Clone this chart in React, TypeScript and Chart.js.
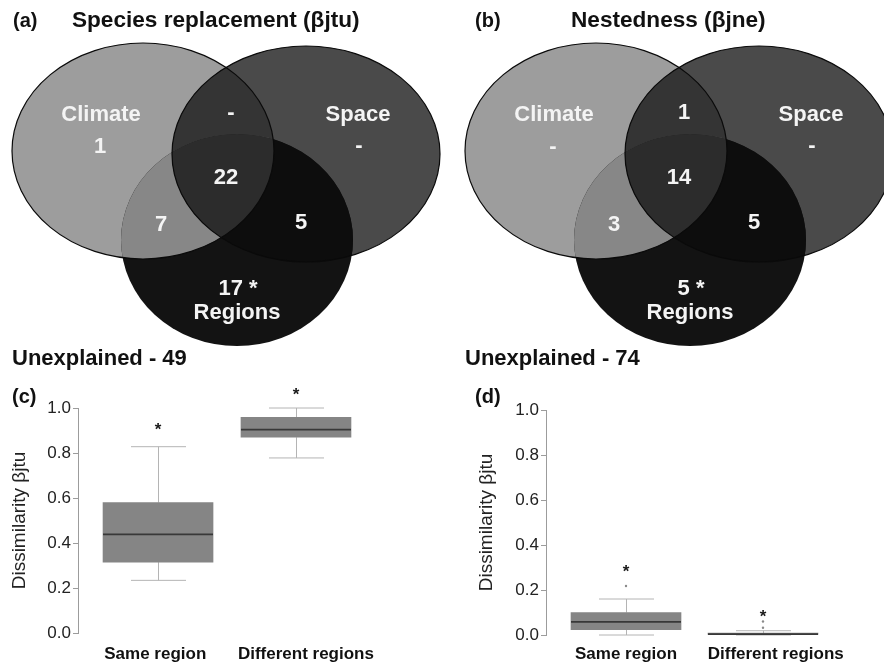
import React, { useEffect, useRef } from 'react';
import { Chart, registerables } from 'chart.js';

Chart.register(...registerables);

const FONT = "'Liberation Sans', Arial, Helvetica, sans-serif";

// ---------- Data: Venn partitions (variation explained, %) ----------
const vennSetNames = ['Climate', 'Space', 'Regions'];
// order: Climate only, Space only, Regions only, C∩S, C∩R, S∩R, C∩S∩R
const vennPartNames = ['Climate', 'Space', 'Regions', 'Climate+Space', 'Climate+Regions', 'Space+Regions', 'All'];
const replacementParts: (number | null)[] = [1, null, 17, null, 7, 5, 22];
const nestednessParts: (number | null)[] = [null, null, 5, 1, 3, 5, 14];
const significantParts = [false, false, true, false, false, false, false];
const vennTitles = ['Species replacement (βjtu)', 'Nestedness (βjne)'];
const unexplained = [49, 74];
const panelLetters = ['(a)', '(b)', '(c)', '(d)'];

// ---------- Data: box plots ----------
const boxCategories = ['Same region', 'Different regions'];
const yTicks = [0, 0.2, 0.4, 0.6, 0.8, 1.0];
const yAxisTitle = 'Dissimilarity βjtu';

const jtuMin = [0.234, 0.778];
const jtuQ1 = [0.315, 0.87];
const jtuMedian = [0.438, 0.904];
const jtuQ3 = [0.58, 0.959];
const jtuMax = [0.828, 1.0];
const jtuOutliers: number[][] = [[], []];
const jtuSignif = [0.911, 1.067];

const jneMin = [0, 0];
const jneQ1 = [0.024, 0.0];
const jneMedian = [0.058, 0.004];
const jneQ3 = [0.1, 0.008];
const jneMax = [0.16, 0.019];
const jneOutliers: number[][] = [[0.218], [0.032, 0.06]];
const jneSignif = [0.289, 0.089];

// ---------- Layout (not data) ----------
const VENN_SHAPES = [
  { cx: 143, cy: 151, rx: 131, ry: 108 }, // Climate
  { cx: 306, cy: 154, rx: 134, ry: 108 }, // Space
  { cx: 237, cy: 240, rx: 116, ry: 106 }, // Regions
];
const VENN_PART_POS = [
  [100, 147], [359, 146], [238, 289], [231, 113], [161, 225], [301, 223], [226, 178],
];
const VENN_NAME_POS = [[101, 115], [358, 115], [237, 313]];
const VENN_COLORS = {
  C: '#9d9d9d', S: '#4a4a4a', R: '#131313',
  CS: '#343434', CR: '#878787', SR: '#0d0d0d', CSR: '#2c2c2c',
};
const VENN_PANELS = [
  { left: 0, dx: 0, letterX: 13, titleX: 72, unexplX: 12 },
  { left: 442, dx: 11, letterX: 33, titleX: 129, unexplX: 23 },
];
const BOX_PANELS = [
  { left: 0, padTop: 33, xAxisH: 32, yAxisW: 78, padRight: 66, xMin: 0.42, xMax: 2.58, labelShift: [-0.02, 0.072], titlePad: 8.6, letterX: 12, labelPad: 11 },
  { left: 442, padTop: 35, xAxisH: 30, yAxisW: 104, padRight: 41, xMin: 0.416, xMax: 2.584, labelShift: [0, 0.093], titlePad: 33.6, letterX: 33, labelPad: 9 },
];
const PANEL_W = 442;
const VENN_H = 375;
const BOX_TOP = 375;
const BOX_H = 290;
const BOX_WIDTH_PX = 110;

function buildVenn(canvas: HTMLCanvasElement, idx: number) {
  const P = VENN_PANELS[idx];
  const values = idx === 0 ? replacementParts : nestednessParts;
  const plugin = {
    id: 'vennDraw',
    afterDatasetsDraw(chart: any) {
      const { ctx, scales } = chart;
      const xs = scales.x, ys = scales.y;
      const px = (v: number) => xs.getPixelForValue(v + P.dx);
      const py = (v: number) => ys.getPixelForValue(v);
      const path = (s: any) => {
        const cx = px(s.cx), cy = py(s.cy);
        ctx.beginPath();
        ctx.ellipse(cx, cy, Math.abs(px(s.cx + s.rx) - cx), Math.abs(py(s.cy + s.ry) - cy), 0, 0, Math.PI * 2);
      };
      const [C, S, R] = VENN_SHAPES;
      const fill = (shape: any, color: string, clips: any[]) => {
        ctx.save();
        clips.forEach((c) => { path(c); ctx.clip(); });
        path(shape);
        ctx.fillStyle = color;
        ctx.fill();
        ctx.restore();
      };
      fill(C, VENN_COLORS.C, []);
      fill(S, VENN_COLORS.S, []);
      fill(R, VENN_COLORS.R, []);
      fill(S, VENN_COLORS.CS, [C]);
      fill(R, VENN_COLORS.CR, [C]);
      fill(R, VENN_COLORS.SR, [S]);
      fill(R, VENN_COLORS.CSR, [C, S]);
      ctx.save();
      ctx.strokeStyle = '#0a0a0a';
      ctx.lineWidth = 1.2;
      path(C); ctx.stroke();
      path(S); ctx.stroke();
      ctx.restore();

      ctx.save();
      ctx.fillStyle = '#f4f4f4';
      ctx.textAlign = 'center';
      ctx.textBaseline = 'middle';
      ctx.font = `bold 22px ${FONT}`;
      values.forEach((v, i) => {
        const txt = (v == null ? '-' : String(v)) + (significantParts[i] ? ' *' : '');
        const [lx, ly] = VENN_PART_POS[i];
        ctx.fillText(txt, px(lx), py(ly));
      });
      vennSetNames.forEach((n, i) => {
        const [lx, ly] = VENN_NAME_POS[i];
        ctx.fillText(n, px(lx), py(ly));
      });
      ctx.restore();

      ctx.save();
      ctx.fillStyle = '#111';
      ctx.textAlign = 'left';
      ctx.textBaseline = 'alphabetic';
      ctx.font = `bold 20px ${FONT}`;
      ctx.fillText(panelLetters[idx], xs.getPixelForValue(P.letterX), ys.getPixelForValue(27));
      ctx.font = `bold 22.6px ${FONT}`;
      ctx.fillText(vennTitles[idx], xs.getPixelForValue(P.titleX), ys.getPixelForValue(27));
      ctx.font = `bold 22px ${FONT}`;
      ctx.fillText(`Unexplained - ${unexplained[idx]}`, xs.getPixelForValue(P.unexplX), ys.getPixelForValue(365));
      ctx.restore();
    },
  };
  return new Chart(canvas, {
    type: 'scatter',
    data: { datasets: [{ label: vennPartNames.join(','), data: [], pointRadius: 0 }] },
    options: {
      animation: false,
      responsive: false,
      events: [],
      layout: { padding: 0 },
      plugins: { legend: { display: false }, tooltip: { enabled: false } },
      scales: {
        x: { type: 'linear', display: false, min: 0, max: PANEL_W },
        y: { type: 'linear', display: false, min: 0, max: VENN_H, reverse: true },
      },
    },
    plugins: [plugin],
  } as any);
}

function buildBox(canvas: HTMLCanvasElement, idx: number) {
  const L = BOX_PANELS[idx];
  const isJtu = idx === 0;
  const mn = isJtu ? jtuMin : jneMin;
  const q1 = isJtu ? jtuQ1 : jneQ1;
  const md = isJtu ? jtuMedian : jneMedian;
  const q3 = isJtu ? jtuQ3 : jneQ3;
  const mx = isJtu ? jtuMax : jneMax;
  const outl = isJtu ? jtuOutliers : jneOutliers;
  const sig = isJtu ? jtuSignif : jneSignif;
  const capHalf = BOX_WIDTH_PX / 4;
  const halfBox = BOX_WIDTH_PX / 2;

  const plugin = {
    id: 'boxParts',
    beforeDatasetsDraw(chart: any) {
      const { ctx, scales: { x, y } } = chart;
      ctx.save();
      ctx.strokeStyle = '#b4b4b4';
      ctx.lineWidth = 1;
      boxCategories.forEach((_, i) => {
        const cx = Math.round(x.getPixelForValue(i + 1)) + 0.5;
        const yMax = y.getPixelForValue(mx[i]);
        const yMin = y.getPixelForValue(mn[i]);
        ctx.beginPath();
        ctx.moveTo(cx, y.getPixelForValue(q3[i]));
        ctx.lineTo(cx, yMax);
        ctx.moveTo(cx - capHalf, yMax);
        ctx.lineTo(cx + capHalf, yMax);
        ctx.moveTo(cx, y.getPixelForValue(q1[i]));
        ctx.lineTo(cx, yMin);
        ctx.moveTo(cx - capHalf, yMin);
        ctx.lineTo(cx + capHalf, yMin);
        ctx.stroke();
      });
      ctx.restore();
    },
    afterDatasetsDraw(chart: any) {
      const { ctx, scales: { x, y } } = chart;
      ctx.save();
      boxCategories.forEach((_, i) => {
        const cx = x.getPixelForValue(i + 1);
        const ym = y.getPixelForValue(md[i]);
        ctx.strokeStyle = '#383838';
        ctx.lineWidth = 1.8;
        ctx.beginPath();
        ctx.moveTo(cx - halfBox, ym);
        ctx.lineTo(cx + halfBox, ym);
        ctx.stroke();
        ctx.fillStyle = '#8a8a8a';
        outl[i].forEach((o) => {
          ctx.beginPath();
          ctx.arc(cx, y.getPixelForValue(o), 1.2, 0, Math.PI * 2);
          ctx.fill();
        });
        ctx.fillStyle = '#1a1a1a';
        ctx.font = `bold 17px ${FONT}`;
        ctx.textAlign = 'center';
        ctx.textBaseline = 'alphabetic';
        ctx.fillText('*', cx, y.getPixelForValue(sig[i]) + 7);
      });
      ctx.fillStyle = '#111';
      ctx.font = `bold 20px ${FONT}`;
      ctx.textAlign = 'left';
      ctx.fillText(panelLetters[idx + 2], L.letterX, 28);
      ctx.restore();
    },
  };

  return new Chart(canvas, {
    type: 'bar',
    data: {
      datasets: [{
        label: isJtu ? 'βjtu' : 'βjne',
        data: boxCategories.map((_, i) => ({ x: i + 1, y: [q1[i], q3[i]] })),
        backgroundColor: '#858585',
        borderWidth: 0,
        barThickness: BOX_WIDTH_PX,
        grouped: false,
      }],
    },
    options: {
      animation: false,
      responsive: false,
      events: [],
      layout: { padding: { top: L.padTop, right: L.padRight, left: 0, bottom: 0 } },
      plugins: { legend: { display: false }, tooltip: { enabled: false } },
      scales: {
        x: {
          type: 'linear',
          min: L.xMin,
          max: L.xMax,
          offset: false,
          afterBuildTicks: (s: any) => { s.ticks = boxCategories.map((_, i) => ({ value: i + 1 + L.labelShift[i] })); },
          afterFit: (s: any) => { s.height = L.xAxisH; },
          ticks: {
            autoSkip: false,
            maxRotation: 0,
            padding: L.labelPad,
            color: '#111',
            font: { family: FONT, size: 17, weight: 'bold' },
            callback: (v: any) => boxCategories[Math.round(Number(v)) - 1],
          },
          grid: { display: false, drawTicks: false },
          border: { display: false },
        },
        y: {
          type: 'linear',
          min: 0,
          max: 1,
          afterBuildTicks: (s: any) => { s.ticks = yTicks.map((v) => ({ value: v })); },
          afterFit: (s: any) => { s.width = L.yAxisW; },
          ticks: {
            padding: 2,
            color: '#222',
            font: { family: FONT, size: 17 },
            callback: (v: any) => Number(v).toFixed(1),
          },
          grid: { drawOnChartArea: false, drawTicks: true, tickLength: 5, color: '#9c9c9c' },
          border: { display: true, color: '#9c9c9c', width: 1 },
          title: {
            display: true,
            text: yAxisTitle,
            color: '#222',
            font: { family: FONT, size: 19 },
            padding: { top: L.titlePad, bottom: 0 },
          },
        },
      },
    },
    plugins: [plugin],
  } as any);
}

function ChartCanvas(props: { left: number; top: number; width: number; height: number; build: (c: HTMLCanvasElement) => Chart }) {
  const ref = useRef<HTMLCanvasElement>(null);
  const { left, top, width, height, build } = props;
  useEffect(() => {
    const chart = build(ref.current as HTMLCanvasElement);
    return () => chart.destroy();
  }, []);
  return (
    <canvas
      ref={ref}
      width={width}
      height={height}
      style={{ position: 'absolute', left, top, width, height, display: 'block' }}
    />
  );
}

export default function App() {
  return (
    <div style={{ position: 'fixed', left: 0, top: 0, width: 884, height: 665, background: '#fff', overflow: 'hidden' }}>
      <ChartCanvas left={0} top={0} width={PANEL_W} height={VENN_H} build={(c) => buildVenn(c, 0)} />
      <ChartCanvas left={442} top={0} width={PANEL_W} height={VENN_H} build={(c) => buildVenn(c, 1)} />
      <ChartCanvas left={0} top={BOX_TOP} width={PANEL_W} height={BOX_H} build={(c) => buildBox(c, 0)} />
      <ChartCanvas left={442} top={BOX_TOP} width={PANEL_W} height={BOX_H} build={(c) => buildBox(c, 1)} />
    </div>
  );
}
